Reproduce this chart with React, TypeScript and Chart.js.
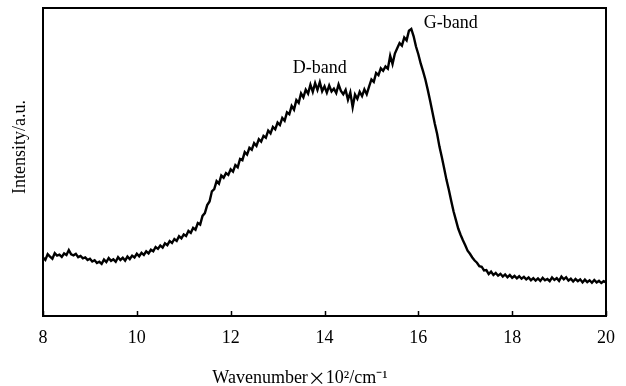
import { useEffect, useRef } from "react";
import { Chart, registerables } from "chart.js";

Chart.register(...registerables);

const wavenumber = [
  8.0, 8.05, 8.1, 8.15, 8.2, 8.25, 8.3, 8.35, 8.4, 8.45, 8.5, 8.55, 8.6, 8.65, 8.7, 8.75, 8.8, 8.85, 8.9, 8.95,
  9.0, 9.05, 9.1, 9.15, 9.2, 9.25, 9.3, 9.35, 9.4, 9.45, 9.5, 9.55, 9.6, 9.65, 9.7, 9.75, 9.8, 9.85, 9.9, 9.95,
  10.0, 10.05, 10.1, 10.15, 10.2, 10.25, 10.3, 10.35, 10.4, 10.45, 10.5, 10.55, 10.6, 10.65, 10.7, 10.75, 10.8, 10.85, 10.9, 10.95,
  11.0, 11.05, 11.1, 11.15, 11.2, 11.25, 11.3, 11.35, 11.4, 11.45, 11.5, 11.55, 11.6, 11.65, 11.7, 11.75, 11.8, 11.85, 11.9, 11.95,
  12.0, 12.05, 12.1, 12.15, 12.2, 12.25, 12.3, 12.35, 12.4, 12.45, 12.5, 12.55, 12.6, 12.65, 12.7, 12.75, 12.8, 12.85, 12.9, 12.95,
  13.0, 13.05, 13.1, 13.15, 13.2, 13.25, 13.3, 13.35, 13.4, 13.45, 13.5, 13.55, 13.6, 13.65, 13.7, 13.75, 13.8, 13.85, 13.9, 13.95,
  14.0, 14.05, 14.1, 14.15, 14.2, 14.25, 14.3, 14.35, 14.4, 14.45, 14.5, 14.55, 14.6, 14.65, 14.7, 14.75, 14.8, 14.85, 14.9, 14.95,
  15.0, 15.05, 15.1, 15.15, 15.2, 15.25, 15.3, 15.35, 15.4, 15.45, 15.5, 15.55, 15.6, 15.65, 15.7, 15.75, 15.8, 15.85, 15.9, 15.95,
  16.0, 16.05, 16.1, 16.15, 16.2, 16.25, 16.3, 16.35, 16.4, 16.45, 16.5, 16.55, 16.6, 16.65, 16.7, 16.75, 16.8, 16.85, 16.9, 16.95,
  17.0, 17.05, 17.1, 17.15, 17.2, 17.25, 17.3, 17.35, 17.4, 17.45, 17.5, 17.55, 17.6, 17.65, 17.7, 17.75, 17.8, 17.85, 17.9, 17.95,
  18.0, 18.05, 18.1, 18.15, 18.2, 18.25, 18.3, 18.35, 18.4, 18.45, 18.5, 18.55, 18.6, 18.65, 18.7, 18.75, 18.8, 18.85, 18.9, 18.95,
  19.0, 19.05, 19.1, 19.15, 19.2, 19.25, 19.3, 19.35, 19.4, 19.45, 19.5, 19.55, 19.6, 19.65, 19.7, 19.75, 19.8, 19.85, 19.9, 19.95,
  20.0,
];

const intensity = [
  19.0, 18.2, 20.1, 19.3, 18.6, 20.4, 19.6, 19.9, 19.2, 20.3, 19.8, 21.4, 20.0, 19.7, 20.2, 19.1, 19.5, 18.7, 19.0, 18.2,
  18.6, 17.7, 18.1, 17.2, 17.6, 16.9, 18.3, 17.5, 18.8, 17.9, 18.4, 17.6, 19.1, 18.2, 18.9, 18.0, 19.3, 18.5, 19.6, 19.0,
  20.2, 19.4, 20.5, 19.8, 21.0, 20.3, 21.5, 21.0, 22.4, 21.8, 22.9, 22.2, 23.6, 23.0, 24.3, 23.7, 25.0, 24.4, 25.9, 25.2,
  26.5, 26.0, 27.6, 27.0, 28.6, 28.0, 30.2, 29.7, 32.5, 33.4, 36.0, 37.2, 40.5, 41.2, 43.8, 43.0, 45.6, 44.9, 46.4, 45.8,
  47.6, 46.9, 49.0, 48.3, 51.0, 50.6, 53.2, 52.4, 54.6, 54.0, 56.1, 55.2, 57.4, 56.6, 58.5, 57.9, 60.2, 59.3, 61.4, 60.6,
  62.8, 62.0, 64.3, 63.4, 66.1, 65.5, 68.2, 67.0, 70.1, 69.2, 72.3, 71.0, 73.5, 72.2, 75.1, 72.8, 75.6, 73.4, 75.9, 73.0,
  74.6, 72.5, 74.8, 72.9, 73.8, 72.4, 75.2, 73.1, 72.0, 73.4, 70.2, 72.6, 67.8, 71.9, 70.5, 72.8, 71.4, 73.6, 72.0, 74.5,
  76.8, 76.0, 78.9, 78.2, 80.4, 79.6, 81.0, 80.3, 84.5, 81.8, 85.2, 86.9, 88.6, 87.8, 90.4, 89.5, 92.6, 93.2, 90.8, 87.5,
  85.0, 82.0, 79.5, 76.8, 73.5, 70.0, 66.2, 62.5, 59.2, 55.0, 51.6, 48.0, 44.2, 41.0, 37.4, 34.0, 31.2, 28.4, 26.4, 24.6,
  23.0, 21.2, 20.2, 19.0, 18.0, 17.3, 16.2, 16.0, 14.8, 14.9, 13.6, 14.4, 13.3, 14.0, 13.1, 13.7, 12.8, 13.5, 12.6, 13.3,
  12.4, 13.0, 12.2, 12.9, 12.1, 12.7, 11.9, 12.5, 11.6, 12.3, 11.5, 12.2, 11.4, 12.4, 11.6, 12.0, 11.3, 12.5, 11.7, 12.3,
  11.4, 12.8, 11.9, 12.6, 11.5, 12.1, 11.2, 12.0, 11.3, 11.9, 10.9, 11.8, 11.0, 11.6, 10.8, 11.7, 10.9, 11.4, 10.7, 11.3,
  10.9,
];

const xTicks = [8, 10, 12, 14, 16, 18, 20];
const bandLabels = ["D-band", "G-band"];
const bandX = [13.9, 16.69];
const bandY = [80.5, 95.1];
const xTitleParts = ["Wavenumber", "×", "10²/cm⁻¹"];
const yTitle = "Intensity/a.u.";

const SERIF = '"Liberation Serif", "Times New Roman", serif';

export default function App() {
  const ref = useRef<HTMLCanvasElement | null>(null);

  useEffect(() => {
    document.body.style.margin = "0";
    const canvas = ref.current;
    if (!canvas) return;

    const decor = {
      id: "decor",
      afterDraw(chart: any) {
        const { ctx, chartArea: a, scales } = chart;
        ctx.save();
        ctx.strokeStyle = "#000";
        ctx.lineWidth = 2;
        ctx.strokeRect(a.left, a.top, a.right - a.left, a.bottom - a.top);
        ctx.lineWidth = 1.5;
        for (const t of xTicks) {
          const px = Math.round(scales.x.getPixelForValue(t)) + 0.5;
          ctx.beginPath();
          ctx.moveTo(px, a.bottom);
          ctx.lineTo(px, a.bottom - 5);
          ctx.stroke();
        }
        ctx.fillStyle = "#000";
        ctx.font = `18px ${SERIF}`;
        ctx.textAlign = "center";
        ctx.textBaseline = "middle";
        bandLabels.forEach((lab, i) => {
          ctx.fillText(lab, scales.x.getPixelForValue(bandX[i]), scales.y.getPixelForValue(bandY[i]));
        });
        // x title
        const f1 = `18px ${SERIF}`;
        const f2 = `18px "Noto Sans CJK SC", sans-serif`;
        ctx.font = f1;
        const w0 = ctx.measureText(xTitleParts[0]).width;
        const w2 = ctx.measureText(xTitleParts[2]).width;
        ctx.font = f2;
        const w1 = ctx.measureText(xTitleParts[1]).width;
        const total = w0 + w1 + w2;
        let x0 = 300 - total / 2;
        const ty = 378;
        ctx.textAlign = "left";
        ctx.font = f1;
        ctx.fillText(xTitleParts[0], x0, ty);
        x0 += w0;
        ctx.font = f2;
        ctx.fillText(xTitleParts[1], x0, ty);
        x0 += w1;
        ctx.font = f1;
        ctx.fillText(xTitleParts[2], x0, ty);
        // y title
        ctx.translate(20, 147);
        ctx.rotate(-Math.PI / 2);
        ctx.textAlign = "center";
        ctx.fillText(yTitle, 0, 0);
        ctx.restore();
      },
    };

    const chart = new Chart(canvas, {
      type: "line",
      data: {
        datasets: [
          {
            data: wavenumber.map((w, i) => ({ x: w, y: intensity[i] })),
            borderColor: "#000",
            borderWidth: 2.4,
            borderJoinStyle: "miter",
            pointRadius: 0,
            tension: 0,
            fill: false,
          },
        ],
      },
      options: {
        animation: false,
        responsive: true,
        maintainAspectRatio: false,
        layout: { padding: { top: 8, right: 17, left: 0, bottom: 0 } },
        plugins: { legend: { display: false }, tooltip: { enabled: false } },
        scales: {
          x: {
            type: "linear",
            min: 8,
            max: 20,
            afterBuildTicks: (s: any) => {
              s.ticks = xTicks.map((v) => ({ value: v }));
            },
            ticks: {
              font: { family: SERIF, size: 18 },
              color: "#000",
              padding: 11,
              maxRotation: 0,
            },
            grid: { display: false, drawTicks: false },
            border: { display: false },
            afterFit: (s: any) => {
              s.height = 70;
            },
          },
          y: {
            min: 0,
            max: 100,
            ticks: { display: false },
            grid: { display: false, drawTicks: false },
            border: { display: false },
            afterFit: (s: any) => {
              s.width = 43;
            },
          },
        },
      },
      plugins: [decor],
    });

    return () => chart.destroy();
  }, []);

  return (
    <div style={{ width: 626, height: 386, position: "relative" }}>
      <canvas ref={ref} />
    </div>
  );
}
